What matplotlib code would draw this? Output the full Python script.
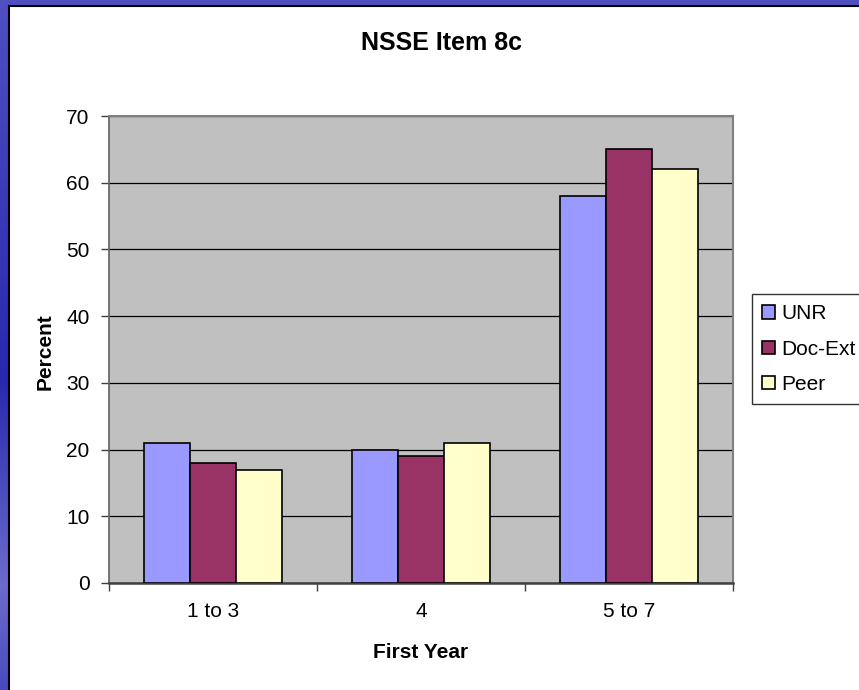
import numpy as np
import matplotlib
matplotlib.use("Agg")
import matplotlib.pyplot as plt
from matplotlib.patches import Patch, Rectangle
from matplotlib.colors import LinearSegmentedColormap

plt.rcParams['font.family'] = ['Liberation Sans', 'DejaVu Sans']

# data
categories = ["1 to 3", "4", "5 to 7"]
series_names = ["UNR", "Doc-Ext", "Peer"]
unr = [21, 20, 58]
doc_ext = [18, 19, 65]
peer = [17, 21, 62]
y_ticks = [0, 10, 20, 30, 40, 50, 60, 70]

colors = ["#9999FF", "#993366", "#FFFFCC"]
W, H = 859, 690

fig = plt.figure(figsize=(W / 100, H / 100), dpi=100)

# blue slide background
bg = fig.add_axes([0, 0, 1, 1], zorder=-10)
cmap = LinearSegmentedColormap.from_list(
    "slide", [(0, "#5050c2"), (0.3, "#3a3ab8"), (0.55, "#2828ae"),
              (0.85, "#6c6ccc"), (1, "#4a4abf")])
grad = np.linspace(0, 1, 256).reshape(-1, 1)
bg.imshow(grad, aspect="auto", cmap=cmap, extent=[0, 1, 0, 1], origin="upper")
bg.axis("off")

# white chart area with black border
fig.patches.append(Rectangle((8.5 / W, -0.05), 1.1, 1 - 5.5 / H + 0.05,
                             transform=fig.transFigure, facecolor="white",
                             edgecolor="black", linewidth=1.5, zorder=-5))

ax = fig.add_axes([109 / W, 1 - 583 / H, (733 - 109) / W, (583 - 116) / H])
ax.set_facecolor("#C0C0C0")

x = np.arange(len(categories))
bw = 1 / 4.5
for i, (vals, name) in enumerate(zip([unr, doc_ext, peer], series_names)):
    ax.bar(x + (i - 1) * bw, vals, bw, color=colors[i], edgecolor="black",
           linewidth=1.2, zorder=3, label=name)

ax.set_xlim(-0.5, 2.5)
ax.set_ylim(0, 70)
ax.set_yticks(y_ticks)
ax.yaxis.grid(True, color="black", linewidth=0.9, zorder=1)
ax.set_axisbelow(True)
ax.set_xticks(x)
ax.set_xticklabels(categories)
ax.set_xticks([-0.5, 0.5, 1.5, 2.5], minor=True)
ax.tick_params(axis="x", which="major", length=0, pad=14, labelsize=15)
ax.tick_params(axis="x", which="minor", length=6, width=1, color="#404040", direction="out")
ax.tick_params(axis="y", length=6, width=1, color="#404040", pad=8, labelsize=15)

for side in ["top", "right"]:
    ax.spines[side].set_color("#808080")
    ax.spines[side].set_linewidth(1.5)
ax.spines["left"].set_color("#606060")
ax.spines["left"].set_linewidth(1.2)
ax.spines["bottom"].set_color("#404040")
ax.spines["bottom"].set_linewidth(1.8)

fig.text(441 / W, 1 - 43 / H, "NSSE Item 8c", ha="center", va="center",
         fontsize=18, fontweight="bold")
fig.text(421 / W, 1 - 653 / H, "First Year", ha="center", va="center",
         fontsize=15, fontweight="bold")
fig.text(45 / W, 1 - 352 / H, "Percent", ha="center", va="center",
         rotation=90, fontsize=15, fontweight="bold")

handles = [Patch(facecolor=c, edgecolor="black", linewidth=1.2) for c in colors]
leg = fig.legend(handles, series_names, loc="upper left",
                 bbox_to_anchor=(752 / W, 1 - 294 / H), fontsize=15,
                 frameon=True, fancybox=False, handlelength=0.6,
                 handleheight=0.6, handletextpad=0.3, labelspacing=0.78,
                 borderpad=0.5, borderaxespad=0)
leg.get_frame().set_edgecolor("black")
leg.get_frame().set_linewidth(1.0)

fig.savefig("out.png", dpi=100)
